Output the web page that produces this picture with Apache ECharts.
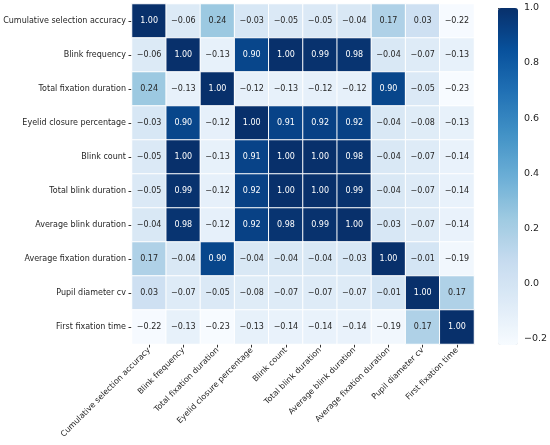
<!DOCTYPE html>
<html>
<head>
<meta charset="utf-8">
<script src="https://cdn.jsdelivr.net/npm/echarts@6/dist/echarts.min.js"></script>
<style>
  html, body { margin: 0; padding: 0; background: #fff; }
  #chart { width: 550px; height: 445px; }
</style>
</head>
<body>
<div id="chart"></div>
<script>
const features = [
  'Cumulative selection accuracy',
  'Blink frequency',
  'Total fixation duration',
  'Eyelid closure percentage',
  'Blink count',
  'Total blink duration',
  'Average blink duration',
  'Average fixation duration',
  'Pupil diameter cv',
  'First fixation time'
]

// correlation matrix, row by row (same order as features)
const corr = [
  [1.00, -0.06, 0.24, -0.03, -0.05, -0.05, -0.04, 0.17, 0.03, -0.22],
  [-0.06, 1.00, -0.13, 0.90, 1.00, 0.99, 0.98, -0.04, -0.07, -0.13],
  [0.24, -0.13, 1.00, -0.12, -0.13, -0.12, -0.12, 0.90, -0.05, -0.23],
  [-0.03, 0.90, -0.12, 1.00, 0.91, 0.92, 0.92, -0.04, -0.08, -0.13],
  [-0.05, 1.00, -0.13, 0.91, 1.00, 1.00, 0.98, -0.04, -0.07, -0.14],
  [-0.05, 0.99, -0.12, 0.92, 1.00, 1.00, 0.99, -0.04, -0.07, -0.14],
  [-0.04, 0.98, -0.12, 0.92, 0.98, 0.99, 1.00, -0.03, -0.07, -0.14],
  [0.17, -0.04, 0.90, -0.04, -0.04, -0.04, -0.03, 1.00, -0.01, -0.19],
  [0.03, -0.07, -0.05, -0.08, -0.07, -0.07, -0.07, -0.01, 1.00, 0.17],
  [-0.22, -0.13, -0.23, -0.13, -0.14, -0.14, -0.14, -0.19, 0.17, 1.00]
]

const colorbarTicks = [-0.2, 0.0, 0.2, 0.4, 0.6, 0.8, 1.0]
const vMin = -0.225
const vMax = 1.0

const blues = ['#f7fbff', '#deebf7', '#c6dbef', '#9ecae1', '#6baed6',
  '#4292c6', '#2171b5', '#08519c', '#08306b']

const fmt = (v, d) => (v < 0 ? '\u2212' : '') + Math.abs(v).toFixed(d)

const cells = []
corr.forEach((row, i) => {
  row.forEach((v, j) => {
    cells.push({
      value: [j, i, v],
      label: { color: v > 0.5 ? '#ffffff' : '#262626' }
    })
  })
})

const font = 'DejaVu Sans'
const chart = echarts.init(document.getElementById('chart'), null, { renderer: 'canvas' })

chart.setOption({
  animation: false,
  backgroundColor: '#fff',
  textStyle: { fontFamily: font },
  grid: [
    { left: 132, top: 4, width: 342, height: 340 },
    { left: 498, top: 8, width: 20, height: 337 }
  ],
  xAxis: [
    {
      type: 'category',
      data: features,
      gridIndex: 0,
      axisLine: { show: false },
      axisTick: { show: true, alignWithLabel: true, length: 3.5, lineStyle: { color: '#333' } },
      axisLabel: { interval: 0, rotate: 45, fontSize: 8, fontFamily: font, color: '#262626', margin: 5 },
      splitArea: { show: false }
    },
    { type: 'value', gridIndex: 1, show: false, min: 0, max: 1 }
  ],
  yAxis: [
    {
      type: 'category',
      data: features,
      gridIndex: 0,
      inverse: true,
      axisLine: { show: false },
      axisTick: { show: true, alignWithLabel: true, length: 3.5, lineStyle: { color: '#333' } },
      axisLabel: { interval: 0, fontSize: 8, fontFamily: font, color: '#262626', margin: 6 },
      splitArea: { show: false }
    },
    {
      type: 'value',
      gridIndex: 1,
      position: 'right',
      min: vMin,
      max: vMax,
      axisLine: { show: false },
      splitLine: { show: false },
      axisTick: { show: true, length: 3.5, customValues: colorbarTicks, lineStyle: { color: '#333' } },
      axisLabel: {
        customValues: colorbarTicks,
        fontSize: 9.5,
        fontFamily: font,
        color: '#262626',
        margin: 6,
        formatter: v => fmt(v, 1)
      }
    }
  ],
  visualMap: {
    type: 'continuous',
    min: vMin,
    max: vMax,
    seriesIndex: 0,
    calculable: false,
    orient: 'vertical',
    left: 498,
    top: 8,
    itemWidth: 20,
    itemHeight: 337,
    padding: 0,
    text: ['', ''],
    showLabel: false,
    inRange: { color: blues }
  },
  series: [
    {
      type: 'heatmap',
      xAxisIndex: 0,
      yAxisIndex: 0,
      data: cells,
      itemStyle: { borderColor: '#ffffff', borderWidth: 1 },
      label: {
        show: true,
        fontSize: 8,
        fontFamily: font,
        formatter: p => fmt(p.value[2], 2)
      },
      emphasis: { disabled: true }
    }
  ]
})

window.addEventListener('resize', () => {
  chart.resize()
})
</script>
</body>
</html>
